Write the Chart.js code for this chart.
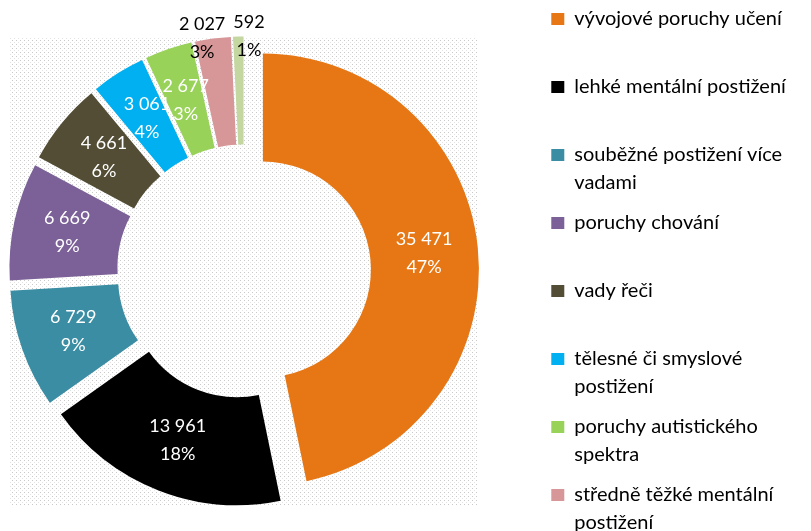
<!DOCTYPE html>
<html lang="cs">
<head>
<meta charset="utf-8">
<title>Žáci se speciálními vzdělávacími potřebami</title>
<script src="https://cdn.jsdelivr.net/npm/chart.js@4.4.1/dist/chart.umd.min.js"></script>
<style>
  html, body { margin: 0; padding: 0; background: #fff; overflow: hidden; }
  #obal { width: 811px; height: 531px; overflow: hidden; }
</style>
</head>
<body>
<div id="obal"><canvas id="kolac" width="811" height="650"></canvas></div>
<script>
var kategorie = [
  "vývojové poruchy učení",
  "lehké mentální postižení",
  "souběžné postižení více vadami",
  "poruchy chování",
  "vady řeči",
  "tělesné či smyslové postižení",
  "poruchy autistického spektra",
  "středně těžké mentální postižení",
  "těžké a hluboké mentální postižení"
];
var pocty = [35471, 13961, 6729, 6669, 4661, 3061, 2677, 2027, 592];
var procenta = [47, 18, 9, 9, 6, 4, 3, 3, 1];
var barvy = ["#E77714", "#000000", "#3A8DA3", "#7B6197", "#524D34",
             "#00B0F0", "#98D258", "#D79698", "#C4D7A0"];

var ODSUN = 19;      // vysunutí výsečí (jako v Excelu)
var PISMO = "Lato";

function mezery(n) {
  return String(n).replace(/\B(?=(\d{3})+(?!\d))/g, " ");
}

// zalomení textu legendy, vždy na dva řádky
function zalomit(ctx, text, sirka) {
  var slova = text.split(" "), radky = [], radek = "";
  slova.forEach(function (s) {
    var zkus = radek ? radek + " " + s : s;
    if (radek && ctx.measureText(zkus).width > sirka) {
      radky.push(radek);
      radek = s;
    } else {
      radek = zkus;
    }
  });
  radky.push(radek);
  while (radky.length < 2) radky.push("");
  return radky;
}

// výseče posunuté od středu
var puvodniKresleni = Chart.ArcElement.prototype.draw;
Chart.ArcElement.prototype.draw = function (ctx) {
  var uhel = (this.startAngle + this.endAngle) / 2;
  ctx.save();
  ctx.translate(Math.cos(uhel) * ODSUN, Math.sin(uhel) * ODSUN);
  puvodniKresleni.call(this, ctx);
  ctx.restore();
};

// tečkované pozadí plochy grafu
var dlazdice = document.createElement("canvas");
dlazdice.width = 4;
dlazdice.height = 4;
var d = dlazdice.getContext("2d");
d.fillStyle = "#fff";
d.fillRect(0, 0, 4, 4);
d.fillStyle = "#c9c9c9";
d.fillRect(0, 0, 1, 1);
d.fillStyle = "#e3e3e3";
d.fillRect(2, 2, 1, 1);

var plocha = {
  id: "plocha",
  afterLayout: function (chart) {
    var a = chart.chartArea;
    a.left = 10; a.top = 37; a.right = 478; a.bottom = 506;
    a.width = a.right - a.left;
    a.height = a.bottom - a.top;
  },
  beforeDraw: function (chart) {
    var ctx = chart.ctx, a = chart.chartArea;
    ctx.save();
    ctx.fillStyle = ctx.createPattern(dlazdice, "repeat");
    ctx.fillRect(a.left, a.top, a.width, a.height);
    ctx.restore();
  }
};

function dvaRadky(ctx, texty, x, y, barva) {
  ctx.fillStyle = barva;
  ctx.fillText(texty[0], x, y - 14);
  ctx.fillText(texty[1], x, y + 14);
}

var popisky = {
  id: "popisky",
  afterDatasetsDraw: function (chart) {
    var ctx = chart.ctx;
    var oblouky = chart.getDatasetMeta(0).data;
    var soucet = pocty.reduce(function (a, b) { return a + b; }, 0);
    var venku = [];
    ctx.save();
    ctx.font = "18px " + PISMO;
    ctx.textAlign = "center";
    ctx.textBaseline = "middle";
    oblouky.forEach(function (arc, i) {
      var uhel = (arc.startAngle + arc.endAngle) / 2;
      var x0 = arc.x + Math.cos(uhel) * ODSUN;
      var y0 = arc.y + Math.sin(uhel) * ODSUN;
      var texty = [mezery(pocty[i]), procenta[i] + "%"];
      if (pocty[i] / soucet >= 0.03) {
        var r = (arc.innerRadius + arc.outerRadius) / 2;
        dvaRadky(ctx, texty, x0 + Math.cos(uhel) * r, y0 + Math.sin(uhel) * r, "#fff");
      } else {
        venku.push({
          texty: texty,
          x: x0 + Math.cos(uhel) * arc.outerRadius,
          y: y0 + Math.sin(uhel) * arc.outerRadius,
          w: Math.max(ctx.measureText(texty[0]).width, ctx.measureText(texty[1]).width)
        });
      }
    });
    // malé výseče: popisky venku, rozestoupit aby se nepřekrývaly
    venku.sort(function (a, b) { return a.x - b.x; });
    for (var k = 1; k < venku.length; k++) {
      var a = venku[k - 1], b = venku[k];
      var treba = (a.w + b.w) / 2 + 8;
      if (b.x - a.x < treba) {
        var chybi = treba - (b.x - a.x);
        a.x -= chybi / 2;
        b.x += chybi / 2;
      }
    }
    venku.forEach(function (p) { dvaRadky(ctx, p.texty, p.x, p.y, "#000"); });
    ctx.restore();
  }
};

new Chart(document.getElementById("kolac"), {
  type: "doughnut",
  data: {
    labels: kategorie,
    datasets: [{
      data: pocty,
      backgroundColor: barvy,
      borderWidth: 0
    }]
  },
  options: {
    responsive: false,
    animation: false,
    events: [],
    cutout: "50%",
    radius: 216,
    layout: { padding: { top: -3, right: 9 } },
    plugins: {
      legend: {
        position: "right",
        align: "start",
        labels: {
          color: "#000",
          boxWidth: 13,
          boxHeight: 12,
          padding: 12,
          font: { family: PISMO, size: 20, lineHeight: "28px" },
          generateLabels: function (chart) {
            var ctx = chart.ctx;
            ctx.save();
            ctx.font = "20px " + PISMO;
            var polozky = kategorie.map(function (k, i) {
              return {
                text: zalomit(ctx, k, 235),
                fillStyle: barvy[i],
                strokeStyle: barvy[i],
                lineWidth: 0,
                hidden: false,
                index: i
              };
            });
            ctx.restore();
            return polozky;
          }
        }
      },
      tooltip: { enabled: false }
    }
  },
  plugins: [plocha, popisky]
});
</script>
</body>
</html>
